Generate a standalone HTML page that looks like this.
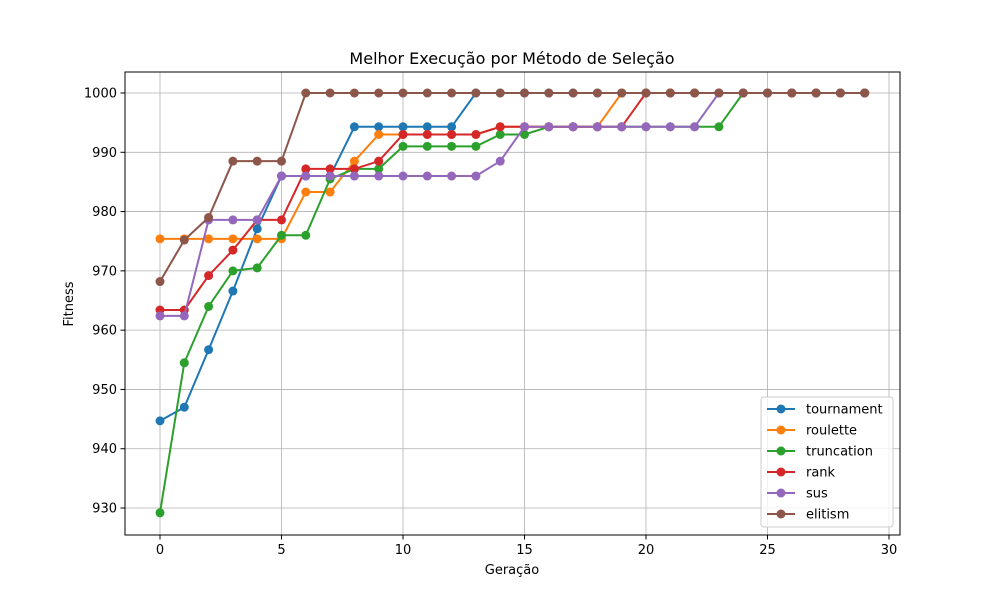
<!DOCTYPE html>
<html><head><meta charset="utf-8"><style>
body{margin:0;background:#fff;font-family:"Liberation Sans","DejaVu Sans",sans-serif}
</style></head><body>
<svg id="chart" width="1000" height="600" xmlns="http://www.w3.org/2000/svg" font-family="'DejaVu Sans','Liberation Sans',sans-serif">
<rect width="1000" height="600" fill="#fff"/>
<text x="512" y="64" text-anchor="middle" font-size="16">Melhor Execução por Método de Seleção</text>
<g id="grid"></g>
<g id="series"></g>
<rect x="125" y="72" width="775" height="463" fill="none" stroke="#000" stroke-width="1"/>
<g id="ticks"></g>
<text x="512" y="574" text-anchor="middle" font-size="13">Geração</text>
<text x="73" y="304" text-anchor="middle" font-size="13" transform="rotate(-90 73 304)">Fitness</text>
<g id="legend"></g>
</svg>
<script>
const seriesNames=["tournament","roulette","truncation","rank","sus","elitism"];
const colors=["#1f77b4","#ff7f0e","#2ca02c","#d62728","#9467bd","#8c564b"];
const tournament=[944.7,947,956.7,966.6,977.1,986,986,986,994.3,994.3,994.3,994.3,994.3,1000,1000,1000,1000,1000,1000,1000,1000,1000,1000,1000,1000,1000,1000,1000,1000,1000];
const roulette=[975.4,975.4,975.4,975.4,975.4,975.4,983.3,983.3,988.5,993,993,993,993,993,994.3,994.3,994.3,994.3,994.3,1000,1000,1000,1000,1000,1000,1000,1000,1000,1000,1000];
const truncation=[929.2,954.5,964,970,970.5,976,976,985.5,987.2,987.2,991,991,991,991,993,993,994.3,994.3,994.3,994.3,994.3,994.3,994.3,994.3,1000,1000,1000,1000,1000,1000];
const rank=[963.4,963.4,969.2,973.5,978.6,978.6,987.2,987.2,987.2,988.5,993,993,993,993,994.3,994.3,994.3,994.3,994.3,994.3,1000,1000,1000,1000,1000,1000,1000,1000,1000,1000];
const sus=[962.4,962.4,978.6,978.6,978.6,986,986,986,986,986,986,986,986,986,988.5,994.3,994.3,994.3,994.3,994.3,994.3,994.3,994.3,1000,1000,1000,1000,1000,1000,1000];
const elitism=[968.2,975.2,979,988.5,988.5,988.5,1000,1000,1000,1000,1000,1000,1000,1000,1000,1000,1000,1000,1000,1000,1000,1000,1000,1000,1000,1000,1000,1000,1000,1000];
const xTicks=[0,5,10,15,20,25,30];
const yTicks=[930,940,950,960,970,980,990,1000];
const allSeries=[tournament,roulette,truncation,rank,sus,elitism];
const NS="http://www.w3.org/2000/svg";
function X(v){return 160+v*24.3;}
function Y(v){return 93+(1000-v)*5.929;}
function mk(t,a,p){const e=document.createElementNS(NS,t);for(const k in a)e.setAttribute(k,a[k]);p.appendChild(e);return e;}
const grid=document.getElementById('grid'),ticks=document.getElementById('ticks');
xTicks.forEach(t=>{
 const g=mk('line',{x1:X(t),x2:X(t),y1:72,y2:535,stroke:'#b0b0b0','stroke-width':0.8},grid);
 
 
 mk('line',{x1:X(t),x2:X(t),y1:535,y2:539.5,stroke:'#000'},ticks);
 const l=mk('text',{x:X(t),y:554,'text-anchor':'middle','font-size':13},ticks);l.textContent=t;
 
 
});
yTicks.forEach(t=>{
 const g=mk('line',{x1:125,x2:900,y1:Y(t),y2:Y(t),stroke:'#b0b0b0','stroke-width':0.8},grid);
 
 
 mk('line',{x1:120.5,x2:125,y1:Y(t),y2:Y(t),stroke:'#000'},ticks);
 const l=mk('text',{x:117,y:Y(t)+4.5,'text-anchor':'end','font-size':13},ticks);l.textContent=t;
 
 
});
const sg=document.getElementById('series');
allSeries.forEach((s,i)=>{
 const g=mk('g',{},sg);
 
 
 mk('polyline',{points:s.map((v,j)=>X(j)+','+Y(v)).join(' '),fill:'none',stroke:colors[i],'stroke-width':2},g);
 s.forEach((v,j)=>{const c=mk('circle',{cx:X(j),cy:Y(v),r:4.5,fill:colors[i]},g);
  
  });
});
const lg=document.getElementById('legend');


mk('rect',{x:761,y:397,width:132,height:130,rx:3,fill:'#fff','fill-opacity':0.8,stroke:'#ccc'},lg);
seriesNames.forEach((n,i)=>{
 const y=409+i*21;
 const e=mk('g',{},lg);
 
 
 mk('line',{x1:767,x2:795,y1:y,y2:y,stroke:colors[i],'stroke-width':2},e);
 mk('circle',{cx:781,cy:y,r:4.5,fill:colors[i]},e);
 const t=mk('text',{x:806,y:y+4.5,'font-size':13},e);t.textContent=n;
});
</script>
</body></html>
